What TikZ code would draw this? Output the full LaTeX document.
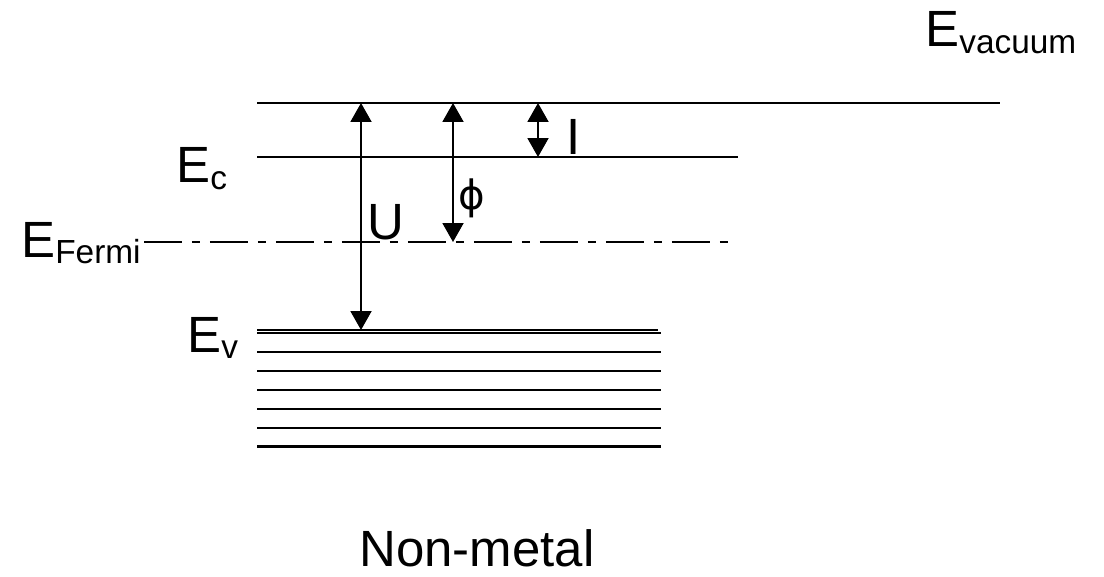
\documentclass[tikz,border=0pt]{standalone}
\usepackage{fontspec}
\setmainfont{Liberation Sans}
\newfontfamily\greekfont{DejaVu Sans}
\usetikzlibrary{arrows.meta}

\newcommand{\bigtxt}{\fontsize{29}{29}\selectfont}
\newcommand{\lvlname}[1]{E\raisebox{-0.13cm}{\fontsize{19}{19}\selectfont #1}}

\tikzset{
  level/.style={line width=0.04cm},
  fermi/.style={line width=0.04cm, dash pattern=on 0.76cm off 0.2cm on 0.16cm off 0.2cm},
  gap/.style={line width=0.04cm, {Triangle[length=0.38cm,width=0.42cm]}-{Triangle[length=0.38cm,width=0.42cm]}},
  lbl/.style={anchor=base west, inner sep=0pt, font=\bigtxt}
}

\begin{document}
\begin{tikzpicture}[x=0.02cm,y=-0.02cm]
\useasboundingbox (0,0) rectangle (1104,577);

%draw the energy levels
\coordinate (vacL) at (257,103);
\coordinate (vacR) at (1000,103);
\coordinate (cL) at (257,157);
\coordinate (cR) at (738,157);
\coordinate (fL) at (144,242);
\coordinate (fR) at (728,242);
\draw[level] (vacL) -- (vacR);
\draw[level] (cL) -- (cR);
\draw[fermi] (fL) -- (fR);

%valence band
\draw[level] (257,330) -- (658,330);
\draw[level] (257,333) -- (661,333);
\foreach \y in {352,371,390,409,428}
  \draw[level] (257,\y) -- (661,\y);
\draw[line width=0.06cm] (257,446) -- (661,446);

%the gaps
\coordinate (uTop) at (361,103);
\coordinate (uBot) at (361,330);
\coordinate (phiTop) at (453,103);
\coordinate (phiBot) at (453,242);
\coordinate (iTop) at (538,103);
\coordinate (iBot) at (538,157);
\draw[gap] (uTop) -- (uBot);
\draw[gap] (phiTop) -- (phiBot);
\draw[gap] (iTop) -- (iBot);

%labels
\node[lbl] (evac) at (925,47) {\lvlname{vacuum}};
\node[lbl] (ec) at (176,183) {\lvlname{c}};
\node[lbl] (ef) at (21,257) {\lvlname{Fermi}};
\node[lbl] (ev) at (187,352) {\lvlname{v}};
\node[lbl] (u) at (367,240) {U};
\node[inner sep=0pt, font=\greekfont\fontsize{23}{23}\selectfont] (phi) at (472,198) {ϕ};
\node[lbl] (i) at (566,155) {I};
\node[lbl] (title) at (359,566) {Non-metal};

\end{tikzpicture}
\end{document}
